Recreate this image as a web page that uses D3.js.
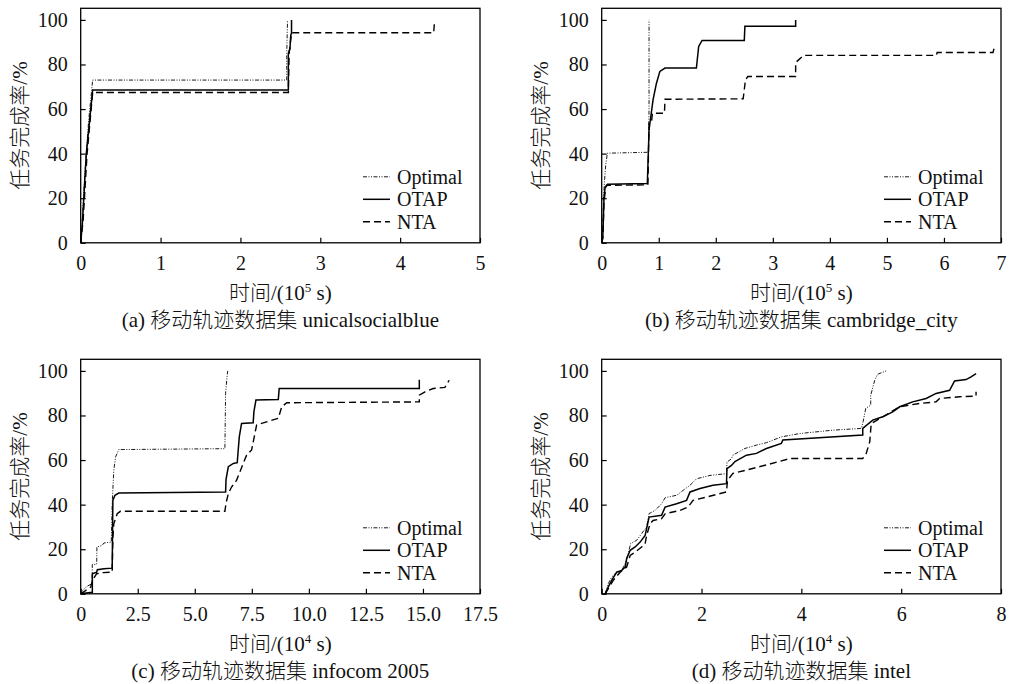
<!DOCTYPE html>
<html>
<head>
<meta charset="utf-8">
<script src="https://cdn.jsdelivr.net/npm/d3@7"></script>
<style>
  body { margin: 0; background: #fff; }
  text { font-family: "Liberation Serif", "Times New Roman", "Noto Sans CJK SC", serif; fill: #111; }
  .cjk { font-weight: 300; }
</style>
</head>
<body>
<div id="chart"></div>
<script>
// series names and their line styles
var seriesNames = ["Optimal", "OTAP", "NTA"];

// y axis ticks (task completion rate, %)
var yTicks = [0, 20, 40, 60, 80, 100];

// (a) unicalsocialblue, x in 10^5 s
var aTicks = [0, 1, 2, 3, 4, 5];
var aOptimal = [[0, 0], [0.02, 10], [0.05, 30], [0.1, 55], [0.15, 73], [2.58, 73], [2.58, 85], [2.59, 100]];
var aOTAP = [[0, 0], [0.02, 8], [0.07, 40], [0.15, 68.6], [2.6, 68.6], [2.6, 85], [2.62, 87], [2.63, 93], [2.64, 94], [2.64, 100]];
var aNTA = [[0, 0], [0.03, 10], [0.08, 40], [0.15, 67.4], [2.6, 67.4], [2.61, 85], [2.64, 94.2], [4.42, 94.2], [4.43, 99]];

// (b) cambridge_city, x in 10^5 s
var bTicks = [0, 1, 2, 3, 4, 5, 6, 7];
var bOptimal = [[0, 0], [0.02, 5], [0.03, 20], [0.05, 28], [0.07, 35], [0.1, 40.2], [0.8, 40.6], [0.82, 41], [0.83, 60], [0.83, 100]];
var bOTAP = [[0, 0], [0.02, 3], [0.04, 20], [0.06, 25], [0.1, 26.3], [0.8, 26.6], [0.83, 50.6], [0.9, 64.1], [0.96, 71.6], [1.02, 76.9], [1.11, 78.4], [1.66, 78.4], [1.7, 88.1], [1.76, 90.8], [2.5, 90.8], [2.51, 97.1], [3.4, 97.1], [3.4, 100]];
var bNTA = [[0, 0], [0.02, 2], [0.04, 18], [0.07, 25], [0.1, 25.8], [0.81, 26], [0.83, 53.6], [0.87, 53.8], [0.89, 58.1], [1.1, 58.1], [1.11, 64.4], [2.48, 64.6], [2.52, 73], [2.56, 74.6], [3.4, 74.6], [3.4, 80.9], [3.54, 84.1], [5.87, 84.1], [5.88, 85.4], [6.86, 85.4], [6.88, 87.4]];

// (c) infocom 2005, x in 10^4 s
var cTicks = [0, 2.5, 5, 7.5, 10, 12.5, 15, 17.5];
var cOptimal = [[0, 0], [0.07, 1.5], [0.3, 3.5], [0.5, 4.5], [0.51, 13.2], [0.7, 13.2], [0.71, 21], [0.94, 21.7], [1.02, 22.8], [1.34, 23.2], [1.38, 40.4], [1.45, 55.4], [1.53, 61.4], [1.67, 64.7], [6.32, 65.1], [6.35, 89.8], [6.4, 95.8], [6.44, 100]];
var cOTAP = [[0, 0], [0.15, 0.3], [0.51, 0.7], [0.51, 9], [0.7, 9.7], [0.73, 10.8], [1.02, 11.2], [1.38, 11.5], [1.41, 41.9], [1.5, 44.2], [1.67, 45.2], [6.35, 45.7], [6.37, 51.3], [6.47, 57], [6.69, 58.5], [6.86, 58.8], [6.95, 70.4], [7.05, 76.4], [7.56, 76.7], [7.59, 81.6], [7.68, 86.9], [8.66, 87.2], [8.7, 92.1], [14.84, 92.1], [14.84, 96]];
var cNTA = [[0, 0], [0.15, 1], [0.44, 3], [0.51, 6], [0.7, 9], [1.0, 9.5], [1.38, 9.7], [1.41, 25], [1.45, 31.4], [1.6, 35.9], [1.74, 37], [6.32, 37], [6.37, 40.7], [6.47, 44.9], [6.61, 47.9], [6.83, 50.9], [6.98, 54.8], [7.27, 62.2], [7.49, 64.5], [7.71, 75.7], [8.0, 76.7], [8.66, 78.7], [8.81, 83.9], [9.03, 85.7], [14.84, 86.1], [14.84, 89.1], [15.09, 90.6], [15.45, 92.1], [15.96, 92.6], [16.15, 95.8]];

// (d) intel, x in 10^4 s
var dTicks = [0, 2, 4, 6, 8];
var dOptimal = [[0.07, 0], [0.13, 4.5], [0.2, 7.5], [0.27, 9], [0.4, 10.5], [0.47, 13.5], [0.53, 18], [0.58, 22.5], [0.7, 24], [0.8, 27], [0.9, 30], [0.95, 36], [1.07, 37.4], [1.2, 40.4], [1.27, 43.1], [1.5, 44.2], [1.77, 48.7], [1.9, 51.6], [2.17, 53.1], [2.5, 53.9], [2.51, 59.1], [2.6, 60.6], [2.63, 62.2], [2.87, 65.2], [3.1, 66.7], [3.3, 67.8], [3.6, 70.4], [3.97, 71.9], [4.63, 73.4], [5.2, 74.2], [5.23, 76.4], [5.29, 83.2], [5.39, 84.6], [5.39, 89.1], [5.47, 95.8], [5.53, 98.5], [5.7, 100]];
var dOTAP = [[0.07, 0], [0.13, 3], [0.2, 6], [0.3, 9.7], [0.4, 10.5], [0.47, 12], [0.5, 15.7], [0.57, 19.5], [0.67, 21], [0.77, 23.2], [0.87, 26.2], [0.95, 34.4], [1.2, 35.2], [1.27, 38.9], [1.5, 40.4], [1.7, 41.9], [1.77, 45.7], [1.97, 47.2], [2.23, 48.7], [2.5, 49.4], [2.51, 56.1], [2.6, 57.6], [2.67, 59.3], [2.9, 62.2], [3.1, 63], [3.3, 65.2], [3.6, 67.5], [3.63, 69], [5.23, 71.2], [5.23, 74.2], [5.43, 77.9], [5.63, 79.4], [5.83, 81.6], [5.97, 83.9], [6.23, 86.1], [6.5, 87.6], [6.7, 89.9], [6.97, 91.3], [7.07, 95.5], [7.3, 96.1], [7.4, 97.3], [7.5, 98.8]];
var dNTA = [[0.07, 0], [0.13, 2.2], [0.23, 6], [0.37, 9.7], [0.5, 12], [0.57, 17.2], [0.67, 18.7], [0.8, 21], [0.87, 22.5], [0.9, 26.2], [0.97, 31.4], [1.03, 32.9], [1.2, 33.7], [1.27, 35.9], [1.57, 37.4], [1.73, 38.9], [1.83, 41.9], [2.1, 43.4], [2.5, 45.7], [2.52, 50.9], [2.63, 54], [2.9, 55.5], [3.3, 57.8], [3.77, 60.7], [5.23, 60.7], [5.3, 63], [5.37, 68.2], [5.4, 76.4], [5.63, 79.4], [5.97, 83.9], [6.37, 85.4], [6.7, 86.1], [6.77, 87.6], [7.17, 88.4], [7.5, 88.7], [7.5, 90.6]];

var captions = ["(a) 移动轨迹数据集 unicalsocialblue", "(b) 移动轨迹数据集 cambridge_city",
                "(c) 移动轨迹数据集 infocom 2005", "(d) 移动轨迹数据集 intel"];
var xPowers = ["5", "5", "4", "4"];

var width = 1012, height = 684;
var plotW = 399.3, plotH = 234.5;

var styles = {
  "Optimal": { w: 1, dash: "4,1.5,1,1.5,1,1.5", color: "#1a1a1a" },
  "OTAP": { w: 1.5, dash: null, color: "#000" },
  "NTA": { w: 1.4, dash: "7,4", color: "#000" }
};

var panels = [
  { left: 80.7, top: 8.3, ticks: aTicks, series: [aOptimal, aOTAP, aNTA], fmt: d3.format("d") },
  { left: 601.7, top: 8.3, ticks: bTicks, series: [bOptimal, bOTAP, bNTA], fmt: d3.format("d") },
  { left: 80.7, top: 359.3, ticks: cTicks, series: [cOptimal, cOTAP, cNTA], fmt: function (d) { return d === 0 ? "0" : d.toFixed(1); } },
  { left: 601.7, top: 359.3, ticks: dTicks, series: [dOptimal, dOTAP, dNTA], fmt: d3.format("d") }
];

var svg = d3.select("#chart").append("svg")
  .attr("width", width)
  .attr("height", height);

svg.append("rect").attr("width", width).attr("height", height).attr("fill", "#fff");

panels.forEach(function (p, i) {
  var g = svg.append("g").attr("transform", "translate(" + p.left + "," + p.top + ")");

  var x = d3.scaleLinear()
    .domain([0, p.ticks[p.ticks.length - 1]])
    .range([0, plotW]);
  var y = d3.scaleLinear()
    .domain([0, 105.2])
    .range([plotH, 0]);

  // axes, ticks pointing inward
  var xAxis = g.append("g")
    .attr("transform", "translate(0," + plotH + ")")
    .call(d3.axisBottom(x).tickValues(p.ticks).tickFormat(p.fmt)
      .tickSizeInner(-5).tickSizeOuter(0).tickPadding(13));
  var yAxis = g.append("g")
    .call(d3.axisLeft(y).tickValues(yTicks).tickFormat(d3.format("d"))
      .tickSizeInner(-5).tickSizeOuter(0).tickPadding(13));

  [xAxis, yAxis].forEach(function (ax) {
    ax.select(".domain").remove();
    ax.selectAll("line").attr("stroke", "#000").attr("stroke-width", 1.2);
    ax.selectAll("text").attr("font-size", 20).attr("fill", "#111")
      .style("font-family", "'Liberation Serif', 'Times New Roman', serif");
  });

  // frame
  g.append("rect")
    .attr("width", plotW).attr("height", plotH)
    .attr("fill", "none").attr("stroke", "#000").attr("stroke-width", 1.3);

  var line = d3.line()
    .x(function (d) { return x(d[0]); })
    .y(function (d) { return y(d[1]); });

  p.series.forEach(function (s, k) {
    var st = styles[seriesNames[k]];
    g.append("path")
      .datum(s)
      .attr("d", line)
      .attr("fill", "none")
      .attr("stroke", st.color)
      .attr("stroke-width", st.w)
      .attr("stroke-dasharray", st.dash);
  });

  // legend
  var legend = g.append("g");
  var rowY = [plotH - 66, plotH - 43.5, plotH - 21];
  seriesNames.forEach(function (name, k) {
    var st = styles[name];
    var ly = rowY[k];
    legend.append("line")
      .attr("x1", plotW - 117).attr("x2", plotW - 90)
      .attr("y1", ly).attr("y2", ly)
      .attr("stroke", st.color)
      .attr("stroke-width", st.w)
      .attr("stroke-dasharray", st.dash);
    legend.append("text")
      .attr("x", plotW - 83).attr("y", ly)
      .attr("dy", "0.35em")
      .attr("font-size", 20)
      .text(name);
  });

  // y title
  g.append("text")
    .attr("class", "cjk")
    .attr("transform", "translate(-61," + (plotH / 2) + ") rotate(-90)")
    .attr("text-anchor", "middle")
    .attr("dy", "0.35em")
    .attr("font-size", 21)
    .text("任务完成率/%");

  // x title with superscript
  var xt = g.append("text")
    .attr("class", "cjk")
    .attr("x", plotW / 2).attr("y", plotH + 57)
    .attr("text-anchor", "middle")
    .attr("font-size", 21);
  xt.append("tspan").text("时间/(10");
  xt.append("tspan").attr("dy", -8).attr("font-size", 13).text(xPowers[i]);
  xt.append("tspan").attr("dy", 8).text(" s)");

  // caption
  g.append("text")
    .attr("class", "cjk")
    .attr("x", plotW / 2).attr("y", plotH + 84)
    .attr("text-anchor", "middle")
    .attr("font-size", 21)
    .text(captions[i]);
});
</script>
</body>
</html>
